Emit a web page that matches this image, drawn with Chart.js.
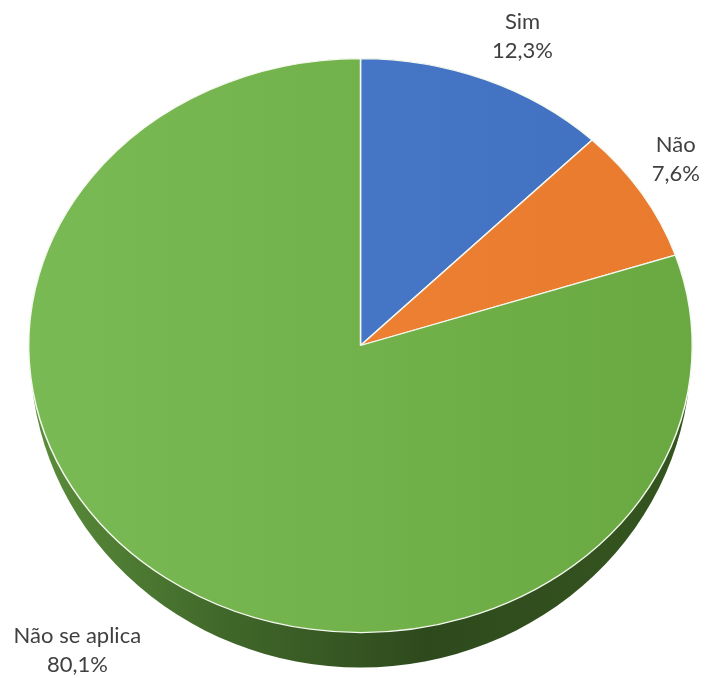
<!DOCTYPE html>
<html>
<head>
<meta charset="utf-8">
<script src="https://cdn.jsdelivr.net/npm/chart.js@4"></script>
<style>
  html, body { margin: 0; padding: 0; background: #ffffff; }
  #wrap { width: 706px; height: 678px; }
</style>
</head>
<body>
<div id="wrap"><canvas id="pie" width="706" height="678"></canvas></div>
<script>
// =========================
// DATA
// =========================
const categories = ['Sim', 'Não', 'Não se aplica'];
const percentages = [12.3, 7.6, 80.1];

// slice colours (light = left side of the 3D shading, dark = right side)
const lightColors = ['#4b7bcd', '#f08536', '#7aba55'];
const darkColors = ['#4170c0', '#e97a2e', '#6aa941'];

// label nudges from the rim point of each slice (px)
const labelNudge = [[37, -43], [34, -34], [-89, 72]];

// 3D look
const TILT = 0.865;     // vertical squash of the pie
const DEPTH = 35;       // thickness of the side wall at the front
const SIDE_DROP = 8;    // how far the wall shows at the left/right rims

function fmtPct(v) {
    return v.toFixed(1).replace('.', ',') + '%';
}

function sliceFill(context) {
    const chart = context.chart;
    const area = chart.chartArea;
    const i = context.dataIndex;
    if (!area) return darkColors[i];
    const g = chart.ctx.createLinearGradient(area.left, 0, area.right, 0);
    g.addColorStop(0, lightColors[i]);
    g.addColorStop(1, darkColors[i]);
    return g;
}

// =========================
// 3D PIE PLUGIN
// =========================
const tiltPlugin = {
    id: 'tilt3d',
    beforeDatasetsDraw(chart) {
        const ctx = chart.ctx;
        const arc = chart.getDatasetMeta(0).data[0];
        const { x, y, outerRadius } = arc.getProps(['x', 'y', 'outerRadius'], true);
        const ry = outerRadius * TILT;

        ctx.save();

        // side wall: lower half of a dropped, slightly taller ellipse
        const side = ctx.createLinearGradient(x - outerRadius, 0, x + outerRadius, 0);
        side.addColorStop(0, '#5b8e3b');
        side.addColorStop(0.3, '#40672a');
        side.addColorStop(0.6, '#2e4a1d');
        side.addColorStop(1, '#35561f');
        ctx.fillStyle = side;
        ctx.beginPath();
        ctx.ellipse(x, y + SIDE_DROP, outerRadius - 1.5, ry + DEPTH - SIDE_DROP, 0, 0, Math.PI);
        ctx.closePath();
        ctx.fill();

        // squash the top face
        ctx.translate(x, y);
        ctx.scale(1, TILT);
        ctx.translate(-x, -y);
    },
    afterDatasetsDraw(chart) {
        chart.ctx.restore();
    },
    afterDraw(chart) {
        const ctx = chart.ctx;
        const meta = chart.getDatasetMeta(0);
        ctx.save();
        ctx.font = '22px Lato';
        ctx.fillStyle = '#404040';
        ctx.textAlign = 'center';
        ctx.textBaseline = 'middle';
        meta.data.forEach((el, i) => {
            const p = el.getProps(['x', 'y', 'startAngle', 'endAngle', 'outerRadius'], true);
            const mid = (p.startAngle + p.endAngle) / 2;
            const rx = p.x + p.outerRadius * Math.cos(mid) + labelNudge[i][0];
            const ry = p.y + p.outerRadius * TILT * Math.sin(mid) + labelNudge[i][1];
            ctx.fillText(categories[i], rx, ry - 14.5);
            ctx.fillText(fmtPct(percentages[i]), rx, ry + 14.5);
        });
        ctx.restore();
    }
};

// =========================
// CHART
// =========================
new Chart(document.getElementById('pie').getContext('2d'), {
    type: 'pie',
    data: {
        labels: categories,
        datasets: [{
            data: percentages,
            backgroundColor: sliceFill,
            borderColor: '#f4f8ee',
            borderWidth: 1.5,
            clip: false
        }]
    },
    options: {
        responsive: false,
        animation: false,
        layout: { padding: { left: 28, right: 13, top: 13, bottom: 0 } },
        plugins: {
            legend: { display: false },
            tooltip: { enabled: false }
        }
    },
    plugins: [tiltPlugin]
});
</script>
</body>
</html>
